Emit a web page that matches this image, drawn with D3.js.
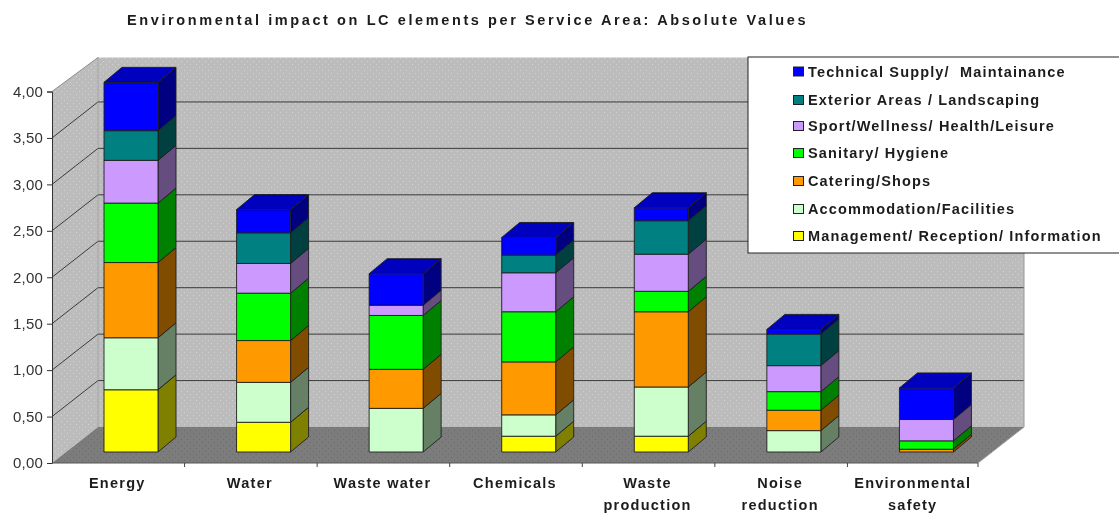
<!DOCTYPE html>
<html>
<head>
<meta charset="utf-8">
<script src="https://cdn.jsdelivr.net/npm/d3@7"></script>
<style>
  html, body { margin: 0; padding: 0; background: #fff; overflow: hidden; }
  text { font-family: "Liberation Sans", Arial, sans-serif; font-weight: bold; fill: #1c1c1c; }
</style>
</head>
<body>
<div id="container"></div>
<script>
// define constants
const WIDTH = 1119;
const HEIGHT = 516;
const DEPTH_X = 46;
const DEPTH_Y = 36;
const BAR_DX = 18;
const BAR_DY = 15;

const title = "Environmental impact on LC elements per Service Area: Absolute Values";
const categories = ["Energy", "Water", "Waste water", "Chemicals", "Waste production", "Noise reduction", "Environmental safety"];
const categoryLines = [["Energy"], ["Water"], ["Waste water"], ["Chemicals"], ["Waste", "production"], ["Noise", "reduction"], ["Environmental", "safety"]];
const yTicks = [0, 0.5, 1, 1.5, 2, 2.5, 3, 3.5, 4];

// bottom to top, same order as the stack
const seriesNames = ["Management/ Reception/ Information", "Accommodation/Facilities", "Catering/Shops", "Sanitary/ Hygiene", "Sport/Wellness/ Health/Leisure", "Exterior Areas / Landscaping", "Technical Supply/  Maintainance"];
const management = [0.67, 0.32, 0, 0.17, 0.17, 0, 0];
const accommodation = [0.56, 0.43, 0.47, 0.23, 0.53, 0.23, 0];
const catering = [0.81, 0.45, 0.42, 0.57, 0.81, 0.22, 0.03];
const sanitary = [0.64, 0.51, 0.58, 0.54, 0.22, 0.20, 0.09];
const sport = [0.46, 0.32, 0.11, 0.42, 0.40, 0.28, 0.23];
const exterior = [0.32, 0.33, 0, 0.19, 0.36, 0.34, 0];
const technical = [0.52, 0.25, 0.34, 0.19, 0.14, 0.05, 0.34];
const seriesValues = [management, accommodation, catering, sanitary, sport, exterior, technical];
const seriesColors = ["#ffff00", "#ccffcc", "#ff9900", "#00ff00", "#cc99ff", "#008080", "#0000ff"];

// scales
const xScale = d3.scaleBand().domain(categories).range([52, 980]);
const yScale = d3.scaleLinear().domain([0, 4]).range([463, 91.5]);
const barWidth = 54;
const barLeft = (c) => xScale(c) + 52;
const barY = (v) => yScale(v) - 11;

const svg = d3.select("#container")
    .append("svg")
    .attr("width", WIDTH)
    .attr("height", HEIGHT)
    .style("display", "block");

const defs = svg.append("defs");

// old-school dithered fill of the walls and floor
const dots = (id, base, dot) => {
    const p = defs.append("pattern")
        .attr("id", id)
        .attr("width", 6)
        .attr("height", 6)
        .attr("patternUnits", "userSpaceOnUse");
    p.append("rect").attr("width", 6).attr("height", 6).attr("fill", base);
    p.append("rect").attr("x", 1).attr("y", 1).attr("width", 1).attr("height", 1).attr("fill", dot);
    p.append("rect").attr("x", 4).attr("y", 4).attr("width", 1).attr("height", 1).attr("fill", dot);
};
dots("wall", "#bcbcbc", "#d2d2d2");
dots("floor", "#7c7c7c", "#6a6a6a");

defs.append("filter").attr("id", "soft")
    .append("feGaussianBlur").attr("stdDeviation", 0.45);

const root = svg.append("g").attr("filter", "url(#soft)");

const poly = (g, pts) => g.append("polygon").attr("points", pts.map((p) => p.join(",")).join(" "));

const x0 = xScale.range()[0];
const x1 = xScale.range()[1] - 2;
const yBase = yScale(0);
const yTop = yScale(4);

// back wall, side wall, floor
poly(root, [[x0 + DEPTH_X, yTop - DEPTH_Y + 2], [x1 + DEPTH_X, yTop - DEPTH_Y + 2], [x1 + DEPTH_X, yBase - DEPTH_Y], [x0 + DEPTH_X, yBase - DEPTH_Y]])
    .attr("fill", "url(#wall)");
poly(root, [[x0, yTop], [x0 + DEPTH_X, yTop - DEPTH_Y + 2], [x0 + DEPTH_X, yBase - DEPTH_Y], [x0, yBase]])
    .attr("fill", "url(#wall)");
poly(root, [[x0, yBase], [x0 + DEPTH_X, yBase - DEPTH_Y], [x1 + DEPTH_X, yBase - DEPTH_Y], [x1, yBase]])
    .attr("fill", "url(#floor)");

// gridlines on side and back wall
const grid = root.append("g").attr("fill", "none").attr("stroke", "#3c3c3c").attr("stroke-width", 1);
yTicks.filter((t) => t > 0 && t < 4).forEach((t) => {
    grid.append("polyline")
        .attr("points", [[x0, yScale(t)], [x0 + DEPTH_X, yScale(t) - DEPTH_Y], [x1 + DEPTH_X, yScale(t) - DEPTH_Y]].map((p) => p.join(",")).join(" "));
});
root.append("line")
    .attr("x1", x0).attr("y1", yTop).attr("x2", x0 + DEPTH_X).attr("y2", yTop - DEPTH_Y + 2)
    .attr("stroke", "#8c8c8c");
root.append("line")
    .attr("x1", x0 + DEPTH_X).attr("y1", yTop - DEPTH_Y + 2).attr("x2", x0 + DEPTH_X).attr("y2", yBase - DEPTH_Y)
    .attr("stroke", "#8c8c8c").attr("stroke-dasharray", "1,1");
root.append("line")
    .attr("x1", x1).attr("y1", yBase).attr("x2", x1 + DEPTH_X).attr("y2", yBase - DEPTH_Y)
    .attr("stroke", "#9a9a9a");
root.append("line")
    .attr("x1", x1 + DEPTH_X).attr("y1", yTop - DEPTH_Y + 2).attr("x2", x1 + DEPTH_X).attr("y2", yBase - DEPTH_Y)
    .attr("stroke", "#9a9a9a");

// stacked values
const rows = categories.map((c, i) => {
    const row = { category: c };
    seriesNames.forEach((s, j) => { row[s] = seriesValues[j][i]; });
    return row;
});
const stacked = d3.stack().keys(seriesNames)(rows);

const sideColor = (color) => {
    const c = d3.rgb(color);
    return d3.rgb(c.r / 2, c.g / 2, c.b / 2).formatHex();
};

// one 3d box per non-empty segment, drawn bottom to top
const bars = root.append("g").attr("stroke", "#1e1e1e").attr("stroke-width", 0.9).attr("stroke-linejoin", "round");
categories.forEach((c, i) => {
    const left = barLeft(c);
    const right = left + barWidth;
    let topY = barY(0);
    let topColor = seriesColors[0];
    stacked.forEach((layer, j) => {
        const d = layer[i];
        if (d[1] - d[0] <= 0) return;
        const yLow = barY(d[0]);
        const yHigh = barY(d[1]);
        poly(bars, [[right, yLow], [right + BAR_DX, yLow - BAR_DY], [right + BAR_DX, yHigh - BAR_DY], [right, yHigh]])
            .attr("fill", sideColor(seriesColors[j]));
        bars.append("rect")
            .attr("x", left)
            .attr("y", yHigh)
            .attr("width", barWidth)
            .attr("height", yLow - yHigh)
            .attr("fill", seriesColors[j]);
        topY = yHigh;
        topColor = seriesColors[j];
    });
    const cap = d3.rgb(topColor);
    poly(bars, [[left, topY], [left + BAR_DX, topY - BAR_DY], [right + BAR_DX, topY - BAR_DY], [right, topY]])
        .attr("fill", d3.rgb(cap.r * 0.75, cap.g * 0.75, cap.b * 0.75).formatHex());
});

// y axis
const leftAxis = d3.axisLeft(yScale)
    .tickValues(yTicks)
    .tickSize(5)
    .tickPadding(4)
    .tickFormat((d) => d3.format(".2f")(d).replace(".", ","));
const yAxisG = root.append("g")
    .attr("transform", "translate(" + x0 + ",0)")
    .call(leftAxis);
yAxisG.selectAll("path, line").attr("stroke", "#333");
yAxisG.selectAll("text")
    .style("font-family", "'Liberation Sans', Arial, sans-serif")
    .style("font-weight", "normal")
    .style("font-size", "15px")
    .style("letter-spacing", "0.2px")
    .style("fill", "#333");

// x axis
const bottomAxis = d3.axisBottom(xScale).tickSize(0).tickFormat("");
const xAxisG = root.append("g")
    .attr("transform", "translate(0," + yBase + ")")
    .call(bottomAxis);
xAxisG.select("path").attr("stroke", "#555").attr("d", "M" + x0 + ",0H" + x1);
categories.forEach((c) => {
    const tx = xScale(c) + xScale.step();
    root.append("line")
        .attr("x1", Math.min(tx, x1)).attr("x2", Math.min(tx, x1))
        .attr("y1", yBase).attr("y2", yBase + 4)
        .attr("stroke", "#444");
});

categories.forEach((c, i) => {
    categoryLines[i].forEach((line, k) => {
        root.append("text")
            .attr("x", xScale(c) + xScale.step() / 2 - 1)
            .attr("y", 488 + k * 22)
            .attr("text-anchor", "middle")
            .style("font-size", "14.5px")
            .style("letter-spacing", "1.25px")
            .text(line);
    });
});

// title
root.append("text")
    .attr("x", 127)
    .attr("y", 25)
    .style("font-size", "14.5px")
    .style("letter-spacing", "2.6px")
    .text(title);

// legend
root.append("rect")
    .attr("x", 748).attr("y", 57)
    .attr("width", 400).attr("height", 196)
    .attr("fill", "#fff")
    .attr("stroke", "#222");

const legendRows = [236, 209, 181, 153, 126, 100, 71.5];
seriesNames.forEach((s, j) => {
    root.append("rect")
        .attr("x", 793.5).attr("y", legendRows[j] - 4.5)
        .attr("width", 10).attr("height", 9)
        .attr("fill", seriesColors[j])
        .attr("stroke", "#222");
    root.append("text")
        .attr("x", 808)
        .attr("y", legendRows[j] + 5)
        .style("font-size", "14.5px")
        .style("letter-spacing", "1.15px")
        .style("white-space", "pre")
        .text(s);
});
</script>
</body>
</html>
